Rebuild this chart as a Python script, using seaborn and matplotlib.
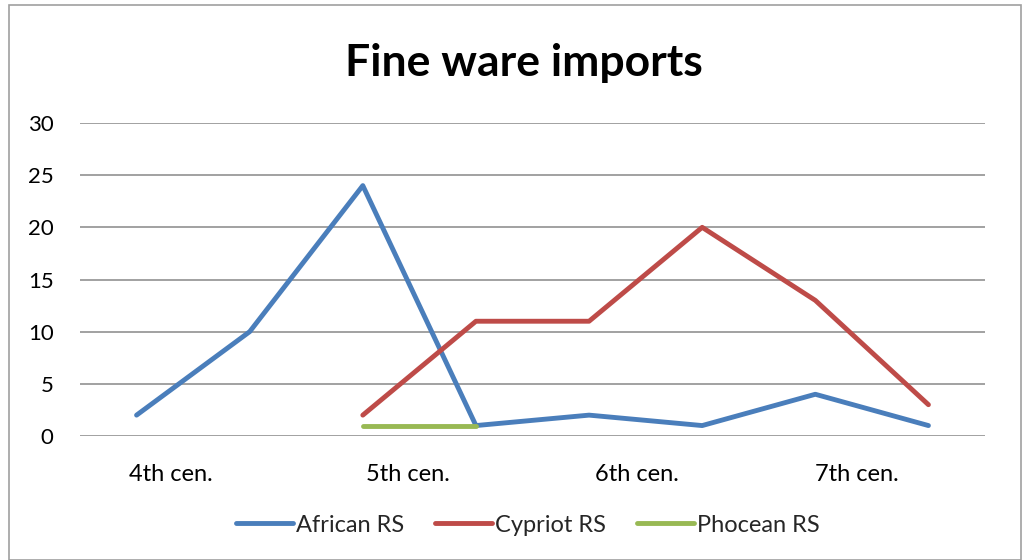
import numpy as np
import pandas as pd
import matplotlib
matplotlib.use("Agg")
import matplotlib.pyplot as plt
import seaborn as sns
from matplotlib.patches import Rectangle
from matplotlib.lines import Line2D

# Data
points = list(range(8))
african = [2, 10, 24, 1, 2, 1, 4, 1]
cypriot = [np.nan, np.nan, 2, 11, 11, 20, 13, 3]
phocean = [np.nan, np.nan, 1, 1, np.nan, np.nan, np.nan, np.nan]
series_names = ["African RS", "Cypriot RS", "Phocean RS"]
century_labels = ["4th cen.", "5th cen.", "6th cen.", "7th cen."]
yticks = [0, 5, 10, 15, 20, 25, 30]

colors = ["#4A7EBB", "#BE4B48", "#98B954"]

rows = []
for name, vals in zip(series_names, [african, cypriot, phocean]):
    for p, v in zip(points, vals):
        rows.append({"point": p, "value": v, "series": name})
df = pd.DataFrame(rows).dropna()

sns.set_theme(style="white")
plt.rcParams["font.family"] = ["Lato", "DejaVu Sans"]

fig = plt.figure(figsize=(10.27, 5.6), dpi=100)
ax = fig.add_axes([80/1027, 1-436/560, 905/1027, (436-123)/560])

sns.lineplot(data=df, x="point", y="value", hue="series", hue_order=series_names,
             palette=colors, linewidth=3.5, ax=ax, legend=False, sort=True)

ax.set_xlim(-0.5, 7.5)
ax.set_ylim(0, 30)
ax.set_yticks(yticks)
ax.set_yticklabels([str(t) for t in yticks], fontsize=16, color="#000000")
label_pos = [0.3, 2.4, 4.42, 6.37]
ax.set_xticks(label_pos)
ax.set_xticklabels(century_labels, fontsize=17, color="#000000")
ax.tick_params(axis="x", length=0, pad=20)
ax.tick_params(axis="y", length=0, pad=19)
ax.yaxis.grid(True, color="#878787", linewidth=1.1)
ax.xaxis.grid(False)
for s in ax.spines.values():
    s.set_visible(False)
ax.set_xlabel("")
ax.set_ylabel("")

fig.text(524/1027, 1-63/560, "Fine ware imports", ha="center", va="center",
         fontsize=32, fontweight="bold", color="#000000")

handles = [Line2D([], [], color=c, linewidth=3.5) for c in colors]
fig.legend(handles, series_names, loc="center", bbox_to_anchor=(528/1027, 1-525/560),
           ncol=3, frameon=False, fontsize=17, handlelength=2.4, handletextpad=0.15,
           columnspacing=1.3)

fig.add_artist(Rectangle((9/1027, 0.5/560), 1012/1027, 555/560, transform=fig.transFigure,
                         fill=False, edgecolor="#A0A0A0", linewidth=1.2))

fig.savefig("out.png", dpi=100)
